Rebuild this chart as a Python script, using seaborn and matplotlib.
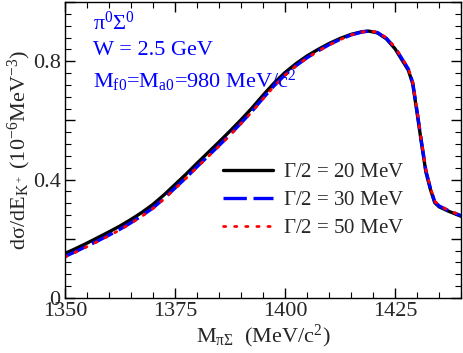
import numpy as np
import pandas as pd
import matplotlib
matplotlib.use("Agg")
import matplotlib.pyplot as plt
import seaborn as sns
from matplotlib.ticker import MultipleLocator, FixedFormatter, FixedLocator

# invariant mass grid (MeV/c^2)
mass = [1350, 1352.5, 1355, 1357.5, 1360, 1362.5, 1365, 1367.5, 1370, 1372.5,
        1375, 1377.5, 1380, 1382.5, 1385, 1387.5, 1390, 1392.5, 1395, 1397.5,
        1400, 1402.5, 1405, 1407.5, 1410, 1412.5, 1415, 1417.5, 1419, 1421,
        1423, 1425, 1426, 1428, 1429, 1430, 1431, 1432, 1433, 1434,
        1435, 1437, 1440]

# dsigma/dE for the three widths (10^-6 MeV^-3)
width20 = [0.150, 0.167, 0.185, 0.204, 0.223, 0.243, 0.265, 0.289, 0.316, 0.348,
           0.383, 0.418, 0.455, 0.491, 0.527, 0.564, 0.602, 0.642, 0.685, 0.726,
           0.762, 0.792, 0.818, 0.840, 0.860, 0.877, 0.891, 0.900, 0.902, 0.896,
           0.876, 0.842, 0.818, 0.770, 0.724, 0.625, 0.522, 0.425, 0.368, 0.322,
           0.308, 0.294, 0.276]
width30 = [0.140, 0.157, 0.175, 0.193, 0.212, 0.232, 0.254, 0.278, 0.304, 0.336,
           0.371, 0.406, 0.443, 0.479, 0.515, 0.552, 0.591, 0.631, 0.675, 0.717,
           0.754, 0.785, 0.812, 0.835, 0.856, 0.874, 0.889, 0.899, 0.902, 0.897,
           0.878, 0.845, 0.822, 0.774, 0.728, 0.630, 0.527, 0.430, 0.372, 0.325,
           0.311, 0.296, 0.278]
width50 = [0.138, 0.155, 0.173, 0.191, 0.210, 0.230, 0.252, 0.276, 0.302, 0.334,
           0.369, 0.404, 0.441, 0.477, 0.513, 0.550, 0.589, 0.629, 0.673, 0.715,
           0.753, 0.784, 0.811, 0.834, 0.855, 0.873, 0.889, 0.899, 0.903, 0.898,
           0.880, 0.847, 0.824, 0.776, 0.730, 0.632, 0.529, 0.432, 0.374, 0.327,
           0.313, 0.297, 0.279]

labels = [r"$\Gamma$/2 = 20 MeV", r"$\Gamma$/2 = 30 MeV", r"$\Gamma$/2 = 50 MeV"]

sns.set_style("ticks", {"xtick.direction": "in", "ytick.direction": "in",
                        "xtick.top": True, "ytick.right": True})
plt.rcParams["font.family"] = ["Liberation Serif", "DejaVu Serif"]
plt.rcParams["mathtext.fontset"] = "custom"
plt.rcParams["mathtext.rm"] = "Liberation Serif"
plt.rcParams["mathtext.it"] = "Liberation Serif"
plt.rcParams["mathtext.default"] = "regular"

df = pd.DataFrame({
    "mass": mass * 3,
    "value": width20 + width30 + width50,
    "width": [labels[0]] * len(mass) + [labels[1]] * len(mass) + [labels[2]] * len(mass),
})

fig = plt.figure(figsize=(4.63, 3.53), dpi=100)
ax = fig.add_axes([0.140, 0.156, 0.856, 0.838])

sns.lineplot(data=df, x="mass", y="value", hue="width", style="width",
             palette=["black", "blue", "red"],
             dashes=[(None, None), (7, 2), (0.8, 3.2)],
             linewidth=2.4, ax=ax, legend=False)
# dotted line a bit thinner, round dots
ax.lines[2].set_linewidth(2.0)
ax.lines[2].set_dash_capstyle("round")

ax.set_xlim(1350, 1440)
ax.set_ylim(0, 1.0)

ax.xaxis.set_major_locator(MultipleLocator(25))
ax.xaxis.set_minor_locator(MultipleLocator(5))
ax.yaxis.set_major_locator(FixedLocator([0, 0.2, 0.4, 0.6, 0.8, 1.0]))
ax.yaxis.set_major_formatter(FixedFormatter(["0", "", "0.4", "", "0.8", ""]))
ax.yaxis.set_minor_locator(MultipleLocator(0.04))
ax.tick_params(which="both", direction="in", top=True, right=True, labelsize=16,
               color="black", pad=3)
ax.tick_params(which="major", length=7, width=1)
ax.tick_params(which="minor", length=4, width=0.8)
for s in ax.spines.values():
    s.set_linewidth(1.0)
    s.set_color("black")

ax.set_xlabel(r"M$_{\pi\Sigma}$  (MeV/c$^2$)", fontsize=16, labelpad=1)
ax.set_ylabel(r"d$\sigma$/dE$_{K^+}$ (10$^{-6}$MeV$^{-3}$)", fontsize=16, labelpad=0)

ax.text(0.07, 0.93, r"$\pi^0\Sigma^0$", color="blue", fontsize=16, transform=ax.transAxes, va="center")
ax.text(0.07, 0.835, "W = 2.5 GeV", color="blue", fontsize=16, transform=ax.transAxes, va="center")
ax.text(0.07, 0.735, r"M$_{f0}$=M$_{a0}$=980 MeV/c$^2$", color="blue", fontsize=16,
        transform=ax.transAxes, va="center")

handles = ax.lines[:3]
ax.legend(handles, labels, loc="center", bbox_to_anchor=(0.628, 0.33), frameon=False,
          fontsize=15, handlelength=2.4, handletextpad=0.5, labelspacing=0.4)

fig.savefig("out.png", dpi=100)
